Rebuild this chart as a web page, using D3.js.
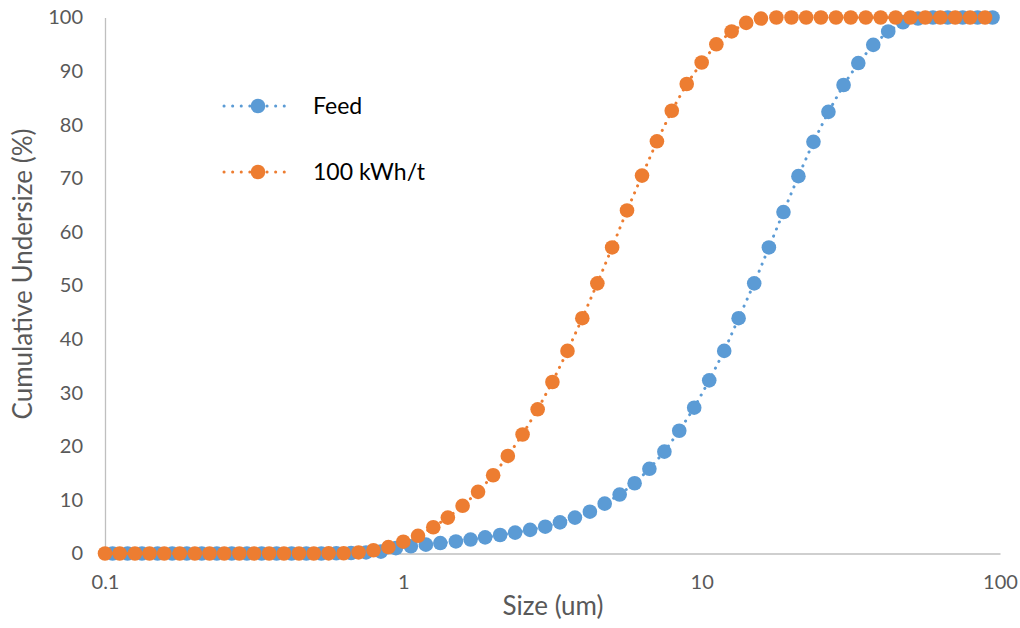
<!DOCTYPE html>
<html>
<head>
<meta charset="utf-8">
<script src="https://cdn.jsdelivr.net/npm/d3@7"></script>
<style>
  body { margin: 0; background: #fff; }
  svg text { font-family: Lato, "Open Sans", sans-serif; }
</style>
</head>
<body>
<svg id="chart"></svg>
<script>
// particle size grid (um)
let feedSizes = [0.106, 0.119, 0.133, 0.150, 0.168, 0.188, 0.211, 0.237, 0.266, 0.299,
    0.335, 0.376, 0.422, 0.473, 0.531, 0.596, 0.668, 0.750, 0.841, 0.944,
    1.06, 1.19, 1.33, 1.50, 1.68, 1.88, 2.11, 2.37, 2.66, 2.99,
    3.35, 3.76, 4.22, 4.73, 5.31, 5.96, 6.68, 7.50, 8.41, 9.44,
    10.6, 11.9, 13.3, 15.0, 16.8, 18.8, 21.1, 23.7, 26.6, 29.9,
    33.5, 37.6, 42.2, 47.3, 53.1, 59.6, 66.8, 75.0, 84.1, 94.4];
let feedValues = [0, 0, 0, 0, 0, 0, 0, 0, 0, 0,
    0, 0, 0, 0, 0, 0.05, 0.1, 0.2, 0.35, 1.0,
    1.35, 1.65, 1.95, 2.25, 2.6, 3.0, 3.45, 3.9, 4.4, 5.0,
    5.8, 6.7, 7.8, 9.3, 11.0, 13.1, 15.8, 19.0, 22.9, 27.2,
    32.3, 37.8, 43.9, 50.4, 57.1, 63.7, 70.4, 76.8, 82.4, 87.4,
    91.5, 94.9, 97.4, 99.1, 99.8, 100, 100, 100, 100, 100];

let kwhSizes = [0.1, 0.112, 0.126, 0.141, 0.158, 0.178, 0.2, 0.224, 0.251, 0.282,
    0.316, 0.355, 0.398, 0.447, 0.501, 0.562, 0.631, 0.708, 0.794, 0.891,
    1.0, 1.12, 1.26, 1.41, 1.58, 1.78, 2.0, 2.24, 2.51, 2.82,
    3.16, 3.55, 3.98, 4.47, 5.01, 5.62, 6.31, 7.08, 7.94, 8.91,
    10, 11.2, 12.6, 14.1, 15.8, 17.8, 20, 22.4, 25.1, 28.2,
    31.6, 35.5, 39.8, 44.7, 50.1, 56.2, 63.1, 70.8, 79.4, 89.1];
let kwhValues = [0, 0, 0, 0, 0, 0, 0, 0, 0, 0,
    0, 0, 0, 0, 0, 0.02, 0.05, 0.2, 0.6, 1.2,
    2.2, 3.3, 4.9, 6.7, 8.9, 11.5, 14.6, 18.2, 22.2, 26.9,
    32.0, 37.8, 43.9, 50.4, 57.1, 64.0, 70.5, 76.9, 82.6, 87.6,
    91.6, 95.0, 97.4, 99.0, 99.8, 100, 100, 100, 100, 100,
    100, 100, 100, 100, 100, 100, 100, 100, 100, 100];

let seriesNames = ['Feed', '100 kWh/t'];
let seriesColors = ['#5B9BD5', '#ED7D31'];
let xTicks = [0.1, 1, 10, 100];
let yTicks = [0, 10, 20, 30, 40, 50, 60, 70, 80, 90, 100];

let width = 1020;
let height = 628;
let plotLeft = 105, plotRight = 1000, plotTop = 17.5, plotBottom = 553.5;

let svg = d3.select('#chart')
    .attr('width', width)
    .attr('height', height);

let xScale = d3.scaleLog().domain([0.1, 100]).range([plotLeft, plotRight]);
let yScale = d3.scaleLinear().domain([0, 100]).range([plotBottom, plotTop]);

// axes
let xAxis = d3.axisBottom(xScale)
    .tickValues(xTicks)
    .tickFormat(d3.format('~g'))
    .tickSize(0)
    .tickPadding(21);
let gx = svg.append('g')
    .attr('transform', 'translate(0,' + plotBottom + ')')
    .call(xAxis);

let yAxis = d3.axisLeft(yScale)
    .tickValues(yTicks)
    .tickSize(0)
    .tickPadding(22);
let gy = svg.append('g')
    .attr('transform', 'translate(' + plotLeft + ',0)')
    .call(yAxis);

[gx, gy].forEach((g) => {
    g.select('.domain').attr('stroke', '#BFBFBF').attr('stroke-width', 1.3);
    g.selectAll('text')
        .attr('fill', '#595959')
        .style('font-size', '20px');
});

svg.append('text')
    .attr('x', 553)
    .attr('y', 615)
    .attr('text-anchor', 'middle')
    .attr('fill', '#595959')
    .style('font-size', '26px')
    .text('Size (um)');

svg.append('text')
    .attr('transform', 'translate(32,' + 274 + ') rotate(-90)')
    .attr('text-anchor', 'middle')
    .attr('fill', '#595959')
    .style('font-size', '26px')
    .text('Cumulative Undersize (%)');

// series
let series = [
    { name: seriesNames[0], color: seriesColors[0], data: feedSizes.map((s, i) => [s, feedValues[i]]) },
    { name: seriesNames[1], color: seriesColors[1], data: kwhSizes.map((s, i) => [s, kwhValues[i]]) }
];

let line = d3.line()
    .x((d) => xScale(d[0]))
    .y((d) => yScale(d[1]));

series.forEach((s) => {
    let g = svg.append('g');
    g.append('path')
        .datum(s.data)
        .attr('d', line)
        .attr('fill', 'none')
        .attr('stroke', s.color)
        .attr('stroke-width', 3)
        .attr('stroke-linecap', 'round')
        .attr('stroke-dasharray', '0.1 7.5');
    g.selectAll('circle')
        .data(s.data)
        .enter()
        .append('circle')
        .attr('cx', (d) => xScale(d[0]))
        .attr('cy', (d) => yScale(d[1]))
        .attr('r', 7.3)
        .attr('fill', s.color);
});

// legend
let legend = svg.append('g');
series.forEach((s, i) => {
    let y = 106 + i * 66;
    legend.append('line')
        .attr('x1', 224).attr('x2', 292)
        .attr('y1', y).attr('y2', y)
        .attr('stroke', s.color)
        .attr('stroke-width', 3)
        .attr('stroke-linecap', 'round')
        .attr('stroke-dasharray', '0.1 8.5');
    legend.append('circle')
        .attr('cx', 258).attr('cy', y)
        .attr('r', 7.3)
        .attr('fill', s.color);
    legend.append('text')
        .attr('x', 313).attr('y', y + 8)
        .attr('fill', '#000')
        .style('font-size', '23px')
        .text(s.name);
});
</script>
</body>
</html>
